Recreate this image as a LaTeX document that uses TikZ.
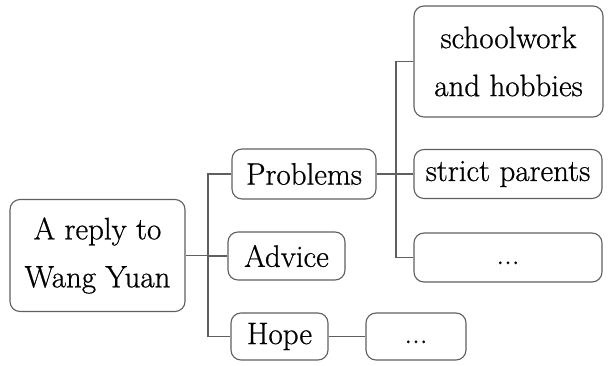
\documentclass[tikz,border=0pt]{standalone}
\usepackage{fontspec}
\newfontfamily\heavy{Latin Modern Roman}[FakeBold=0.7]
\begin{document}
\begin{tikzpicture}[x=1pt,y=-1pt,
  box/.style={draw=linegray, line width=1.1pt, rounded corners=10pt, inner sep=0pt,
    font=\heavy\fontsize{31}{48}\selectfont, align=center, text=black},
  conn/.style={draw=linegray, line width=1.1pt}]
\definecolor{linegray}{RGB}{95,95,95}
\useasboundingbox (0,0) rectangle (608,366);
\node[box, minimum width=175pt, minimum height=112pt] (root) at (97.5,255.5) {A reply to\\Wang Yuan};
\node[box, minimum width=144pt, minimum height=50pt] (prob) at (304,174) {Problems};
\node[box, minimum width=117pt, minimum height=48pt] (adv) at (286.5,256) {Advice};
\node[box, minimum width=97pt, minimum height=47pt] (hope) at (279.5,336.5) {Hope};
\node[box, minimum width=100pt, minimum height=47pt] (hdots) at (416,336.5) {\vphantom{x}...};
\node[box, minimum width=189pt, minimum height=111pt] (school) at (508.5,61.5) {schoolwork\\and hobbies};
\node[box, minimum width=188pt, minimum height=49pt] (strict) at (508,174) {strict parents};
\node[box, minimum width=188pt, minimum height=49pt] (sdots) at (508,257.5) {\vphantom{x}...};
\coordinate (t1) at (208,0);
\coordinate (t2) at (396,0);
\draw[conn] (root.east) -- (root.east -| t1);
\draw[conn] (prob.west) -- (prob.west -| t1) -- (hope.west -| t1) -- (hope.west);
\draw[conn] (adv.west) -- (adv.west -| t1);
\draw[conn] (prob.east) -- (strict.west);
\draw[conn] (school.west) -- (school.west -| t2) -- (sdots.west -| t2) -- (sdots.west);
\draw[conn] (hope.east) -- (hdots.west);
\end{tikzpicture}
\end{document}
